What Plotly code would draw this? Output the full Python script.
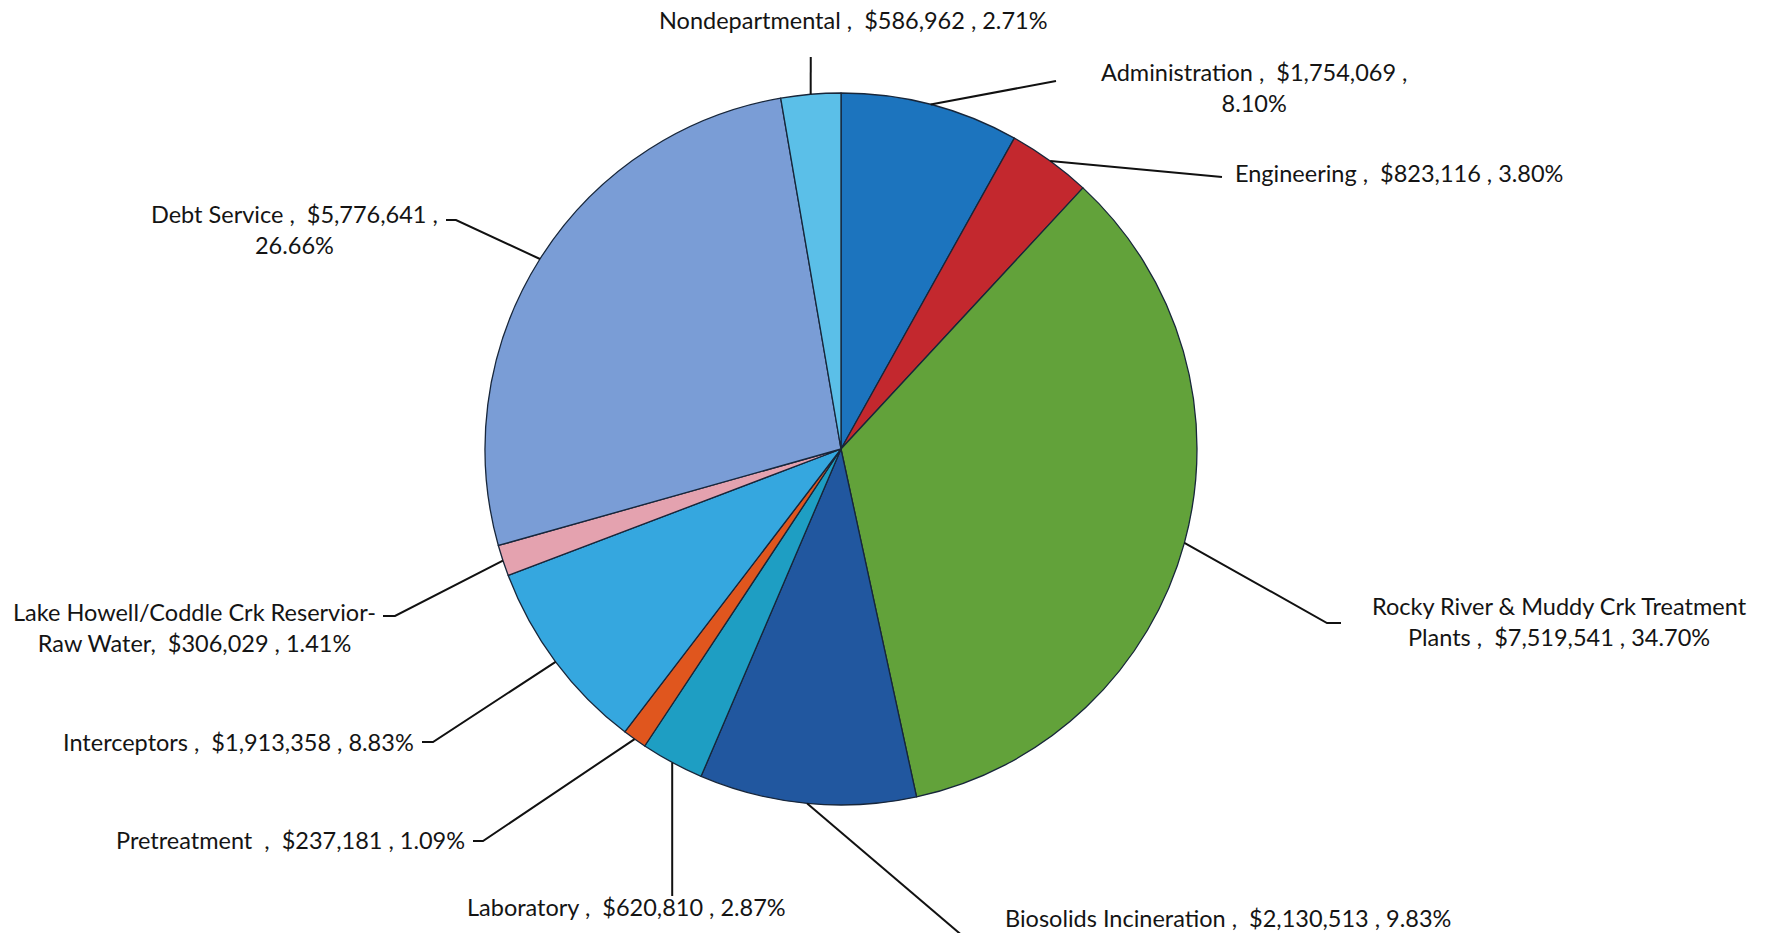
import math
import plotly.graph_objects as go

# Budget by department (USD), clockwise from 12 o'clock
departments = [
    "Administration",
    "Engineering",
    "Rocky River & Muddy Crk Treatment Plants",
    "Biosolids Incineration",
    "Laboratory",
    "Pretreatment",
    "Interceptors",
    "Lake Howell/Coddle Crk Reservior-Raw Water",
    "Debt Service",
    "Nondepartmental",
]
amounts = [1754069, 823116, 7519541, 2130513, 620810, 237181, 1913358, 306029, 5776641, 586962]

# Label text templates ({v} = amount, {p} = share of total)
label_templates = [
    "Administration ,  {v} ,<br>{p}",
    "Engineering ,  {v} , {p}",
    "Rocky River & Muddy Crk Treatment<br>Plants ,  {v} , {p}",
    "Biosolids Incineration ,  {v} , {p}",
    "Laboratory ,  {v} , {p}",
    "Pretreatment  ,  {v} , {p}",
    "Interceptors ,  {v} , {p}",
    "Lake Howell/Coddle Crk Reservior-<br>Raw Water,  {v} , {p}",
    "Debt Service ,  {v} ,<br>{p}",
    "Nondepartmental ,  {v} , {p}",
]

slice_colors = [
    "#1C74BE", "#C3282E", "#62A23A", "#21579F", "#1E9EC3",
    "#E0561E", "#35A7DF", "#E4A2AF", "#7A9DD6", "#5BBFE8",
]

W, H = 1771, 933
CX, CY, R = 841, 449, 356  # pie centre and radius in pixels

# Label placement: (elbow points in px, annotation x, y, xanchor, align)
label_layout = [
    ([(1056, 81)], 1254, 87, "center", "center"),
    ([(1222, 177)], 1233, 173, "left", "left"),
    ([(1327, 623), (1341, 623)], 1559, 621, "center", "center"),
    ([(985, 955)], 1003, 918, "left", "left"),
    ([(None, 896)], 626, 907, "center", "center"),
    ([(483, 841), (473, 841)], 467, 840, "right", "right"),
    ([(433, 742), (422, 742)], 416, 742, "right", "right"),
    ([(395, 616), (383, 616)], 194, 627, "center", "center"),
    ([(456, 220), (446, 220)], 294, 229, "center", "center"),
    ([(None, 57)], 853, 20, "center", "center"),
]

total = sum(amounts)

fig = go.Figure()
fig.add_trace(go.Pie(
    labels=departments,
    values=amounts,
    sort=False,
    direction="clockwise",
    rotation=0,
    textinfo="none",
    hoverinfo="label+value+percent",
    marker=dict(colors=slice_colors, line=dict(color="#17263a", width=1.3)),
    domain=dict(x=[(CX - R) / W, (CX + R) / W], y=[(H - CY - R) / H, (H - CY + R) / H]),
    showlegend=False,
))

shapes = []
annotations = []
cum = 0.0
for name, val, tpl, (pts, tx, ty, xanch, align) in zip(departments, amounts, label_templates, label_layout):
    mid = (cum + val / 2) / total * 2 * math.pi
    cum += val
    ex = CX + R * math.sin(mid)
    ey = CY - R * math.cos(mid)
    path = f"M {ex:.1f},{ey:.1f}"
    for px, py in pts:
        px = ex if px is None else px
        path += f" L {px},{py}"
    shapes.append(dict(type="path", path=path, xref="x", yref="y",
                       line=dict(color="#111111", width=2)))
    text = tpl.format(v=f"${val:,}", p=f"{val / total * 100:.2f}%")
    annotations.append(dict(x=tx, y=ty, xref="x", yref="y", text=text, showarrow=False,
                            xanchor=xanch, yanchor="middle", align=align,
                            font=dict(family="Lato", size=23.5, color="#141414")))

fig.update_layout(
    width=W, height=H,
    margin=dict(l=0, r=0, t=0, b=0),
    paper_bgcolor="white", plot_bgcolor="rgba(0,0,0,0)",
    xaxis=dict(range=[0, W], visible=False, fixedrange=True),
    yaxis=dict(range=[H, 0], visible=False, fixedrange=True),
    shapes=shapes,
    annotations=annotations,
)

fig.write_html("out.html")
